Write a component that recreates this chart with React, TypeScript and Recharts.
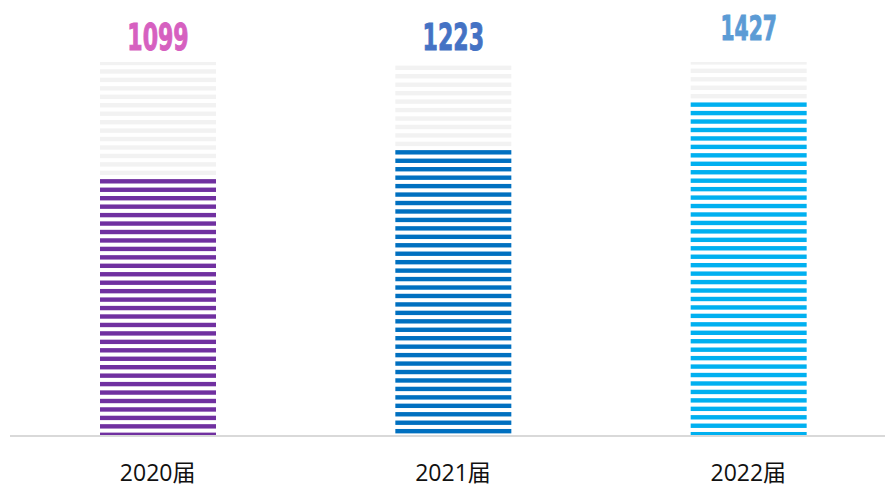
import { BarChart, Bar, XAxis, YAxis, LabelList } from "recharts"

const categories = ["2020届", "2021届", "2022届"]
const graduates = [1099, 1223, 1427]
const fullScale = 1600

const barColors = ["#7030a0", "#0070c0", "#00b0f0"]
const labelColors = ["#d660c0", "#4472c4", "#5b9bd5"]
const labelSizes = [37, 37, 34]
const labelLift = [12, 12, 22]

const STRIPE_PERIOD = 8.45
const STRIPE_HEIGHT = 4.4

const data = categories.map((name, i) => ({
  name,
  value: graduates[i],
  rest: fullScale - graduates[i],
}))

// stripes run down from the top of the coloured bar
function ValueStripes(props: any) {
  const { x, y, width, height, index } = props
  const rows = []
  for (let k = 0; y + k * STRIPE_PERIOD < y + height; k++) {
    const sy = y + k * STRIPE_PERIOD
    const h = Math.min(STRIPE_HEIGHT, y + height - sy)
    rows.push(<rect key={k} x={x} y={sy} width={width} height={h} fill={barColors[index]} />)
  }
  return <g>{rows}</g>
}

// grey stripes continue upward with the same rhythm
function RestStripes(props: any) {
  const { x, y, width, height } = props
  const bottom = y + height
  const rows = []
  for (let k = 0; ; k++) {
    const sy = bottom - (k + 1) * STRIPE_PERIOD
    if (sy + STRIPE_HEIGHT <= y) break
    const top = Math.max(sy, y)
    rows.push(<rect key={k} x={x} y={top} width={width} height={sy + STRIPE_HEIGHT - top} fill="#f2f2f2" />)
  }
  return <g>{rows}</g>
}

function TopLabel(props: any) {
  const { x, y, width, value, index } = props
  const size = labelSizes[index]
  return (
    <text
      x={x + width / 2}
      y={y - labelLift[index]}
      textAnchor="middle"
      fill={labelColors[index]}
      stroke={labelColors[index]}
      strokeWidth={1}
      fontSize={size}
      fontWeight={700}
      fontFamily="'DejaVu Sans', sans-serif"
      textLength={size * 1.66}
      lengthAdjust="spacingAndGlyphs"
    >
      {value}
    </text>
  )
}

export default function App() {
  return (
    <div style={{ position: "absolute", left: 0, top: 0, background: "#fff" }}>
      <BarChart width={885} height={487} data={data} margin={{ top: 62, right: 0, left: 10, bottom: 0 }} barSize={116}>
        <XAxis
          dataKey="name"
          height={51}
          padding={{ left: 0, right: -11 }}
          axisLine={{ stroke: "#d9d9d9", strokeWidth: 2 }}
          tickLine={false}
          tickSize={0}
          tickMargin={29}
          tick={{ fill: "#111", fontSize: 23, fontFamily: "'Open Sans', 'Noto Sans CJK SC', sans-serif" }}
        />
        <YAxis hide domain={[0, fullScale]} />
        <Bar dataKey="value" stackId="a" shape={<ValueStripes />} isAnimationActive={false} />
        <Bar dataKey="rest" stackId="a" shape={<RestStripes />} isAnimationActive={false}>
          <LabelList dataKey="value" content={<TopLabel />} />
        </Bar>
      </BarChart>
    </div>
  )
}
